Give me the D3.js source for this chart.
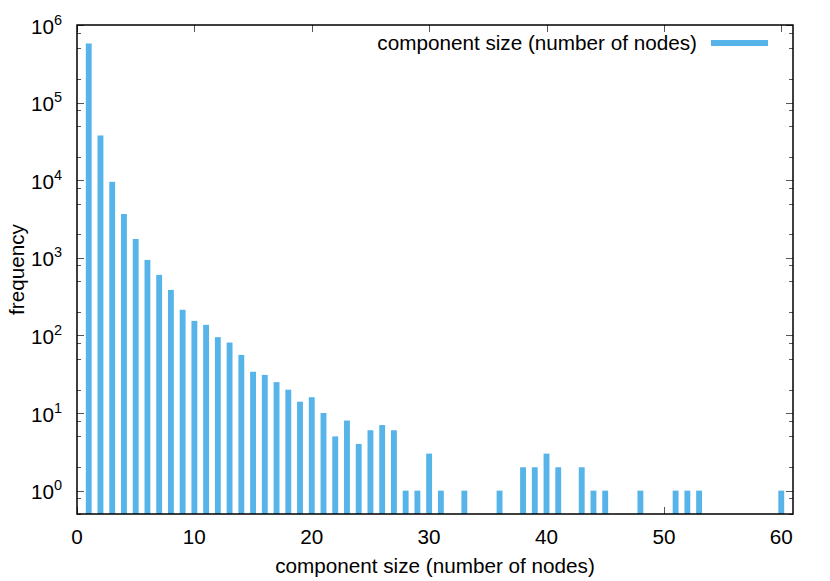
<!DOCTYPE html>
<html>
<head>
<meta charset="utf-8">
<script src="https://cdn.jsdelivr.net/npm/d3@7"></script>
<style>
  html, body { margin: 0; padding: 0; background: #fff; }
  svg { display: block; font-family: "Liberation Sans", Arial, Helvetica, sans-serif; }
</style>
</head>
<body>
<svg id="chart" width="830" height="581"></svg>
<script>
// ---- data ----
const sizes = [1,2,3,4,5,6,7,8,9,10,11,12,13,14,15,16,17,18,19,20,21,22,23,24,25,26,27,
               28,29,30,31,33,36,38,39,40,41,43,44,45,48,51,52,53,60];
const counts = [578000,37700,9530,3665,1750,940,603,386,214,154,137,95,81,56,34,31,25,20,14,16,10,5,8,4,6,7,6,
                1,1,3,1,1,1,2,2,3,2,2,1,1,1,1,1,1,1];
const xTicks = [0,10,20,30,40,50,60];
const yExponents = [0,1,2,3,4,5,6];
const seriesName = "component size (number of nodes)";
const xTitle = "component size (number of nodes)";
const yTitle = "frequency";

// ---- layout ----
const L = 77, R = 793, T = 25, B = 514;
const color = "#56b4e9";
const svg = d3.select("#chart");

const x = d3.scaleLinear().domain([0, 61]).range([L, R]);
const y = d3.scaleLog().domain([0.5, 1e6]).range([B, T]);

// minor tick values (2, 5, 8 per decade as in reference)
const minor = [];
for (let e = -1; e <= 5; e++) {
  [2, 5, 8].forEach(m => { const v = m * Math.pow(10, e); if (v >= 0.5 && v <= 1e6) minor.push(v); });
}

const tickG = svg.append("g").attr("stroke", "#555").attr("stroke-width", 1);
yExponents.forEach(e => {
  const yy = Math.round(y(Math.pow(10, e))) + 0.5;
  tickG.append("line").attr("x1", L).attr("x2", L + 7).attr("y1", yy).attr("y2", yy);
  tickG.append("line").attr("x1", R).attr("x2", R - 7).attr("y1", yy).attr("y2", yy);
});
minor.forEach(v => {
  const yy = Math.round(y(v)) + 0.5;
  tickG.append("line").attr("x1", L).attr("x2", L + 4).attr("y1", yy).attr("y2", yy);
  tickG.append("line").attr("x1", R).attr("x2", R - 4).attr("y1", yy).attr("y2", yy);
});
xTicks.forEach(t => {
  const xx = Math.round(x(t)) + 0.5;
  tickG.append("line").attr("x1", xx).attr("x2", xx).attr("y1", B).attr("y2", B - 7);
  tickG.append("line").attr("x1", xx).attr("x2", xx).attr("y1", T).attr("y2", T + 7);
});

// ---- bars ----
const data = sizes.map((s, i) => ({ s, c: counts[i] }));
const bw = x(0.5) - x(0);
svg.append("g").selectAll("rect").data(data).join("rect")
  .attr("x", d => x(d.s) - bw / 2)
  .attr("width", bw)
  .attr("y", d => y(d.c))
  .attr("height", d => B - y(d.c))
  .attr("fill", color);

// ---- frame ----
svg.append("rect").attr("x", L).attr("y", T).attr("width", R - L).attr("height", B - T)
  .attr("fill", "none").attr("stroke", "#000").attr("stroke-width", 1.5);

// ---- tick labels ----
const fs = 20.7;
svg.append("g").selectAll("text").data(xTicks).join("text")
  .attr("x", d => x(d)).attr("y", 543.5)
  .attr("text-anchor", "middle").attr("font-size", fs).attr("fill", "#000")
  .text(d => d);

const yl = svg.append("g").selectAll("text").data(yExponents).join("text")
  .attr("x", 62).attr("y", d => y(Math.pow(10, d)) + 8.5)
  .attr("text-anchor", "end").attr("font-size", fs).attr("fill", "#000");
yl.append("tspan").text("10");
yl.append("tspan").attr("dy", -9).attr("font-size", 14.5).text(d => d);

// ---- axis titles ----
svg.append("text").attr("x", (L + R) / 2).attr("y", 573)
  .attr("text-anchor", "middle").attr("font-size", fs).text(xTitle);
svg.append("text")
  .attr("transform", `translate(24,${(T + B) / 2}) rotate(-90)`)
  .attr("text-anchor", "middle").attr("font-size", fs).text(yTitle);

// ---- legend ----
svg.append("text").attr("x", 697).attr("y", 49.5).attr("text-anchor", "end")
  .attr("font-size", fs).text(seriesName);
svg.append("line").attr("x1", 711).attr("x2", 768).attr("y1", 43).attr("y2", 43)
  .attr("stroke", color).attr("stroke-width", 6);
</script>
</body>
</html>
